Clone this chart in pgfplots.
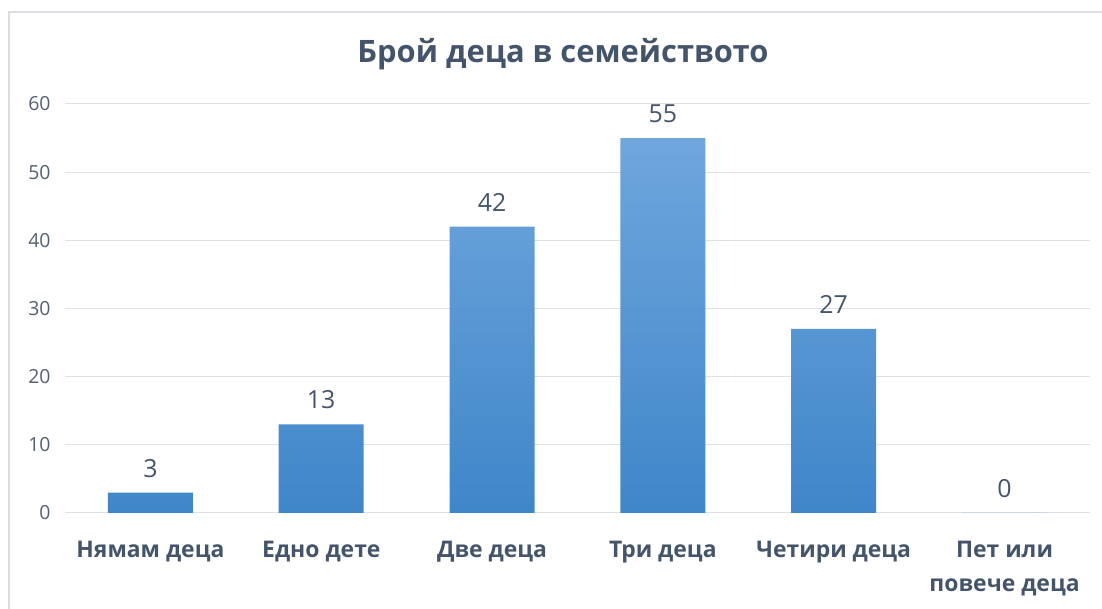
\documentclass[border=0pt]{standalone}
\usepackage{fontspec}
\setmainfont{Open Sans}
\usepackage{pgfplots}
\pgfplotsset{compat=1.18}
\definecolor{txt}{HTML}{44546A}
\definecolor{ticktxt}{HTML}{556070}
\definecolor{gridc}{HTML}{DDE1E6}
\definecolor{framec}{HTML}{D9DDE2}
\definecolor{bartop}{HTML}{6FA6DD}
\definecolor{barbot}{HTML}{3F86C9}
\begin{document}
\begin{tikzpicture}[x=1bp,y=1bp]
\useasboundingbox (0,0) rectangle (1102,609);
\draw[color=framec, line width=2bp] (9,0) -- (9,597) -- (1102,597);
\node[font=\bfseries\fontsize{31}{35}\selectfont, text=txt] at (563,555) {Брой деца в семейството};
\begin{axis}[
  at={(65bp,96bp)}, anchor=south west,
  scale only axis, width=1025bp, height=409bp,
  xmin=-0.5, xmax=5.5, ymin=0, ymax=60,
  ytick={0,10,...,60},
  xtick={0,...,5},
  xticklabels={Нямам деца, Едно дете, Две деца, Три деца, Четири деца, {\begin{tabular}[t]{@{}c@{}}Пет или\\повече деца\end{tabular}}},
  axis line style={draw=none},
  tick style={draw=none},
  ymajorgrids,
  grid style={draw=gridc, line width=1bp},
  /pgf/number format/assume math mode=true,
  yticklabel style={font=\fontsize{19.5}{22}\selectfont, text=ticktxt, xshift=-11bp},
  xticklabel style={font=\bfseries\fontsize{23}{34}\selectfont, text=txt, anchor=base, yshift=-40bp},
  ybar, bar width=85bp,
  nodes near coords,
  every node near coord/.append style={font=\fontsize{25}{28}\selectfont, text=txt, anchor=south, inner sep=0pt, yshift=15bp},
]
\addplot[draw=none, top color=bartop, bottom color=barbot] coordinates {(0,3) (1,13) (2,42) (3,55) (4,27) (5,0)};
\end{axis}
\end{tikzpicture}
\end{document}
